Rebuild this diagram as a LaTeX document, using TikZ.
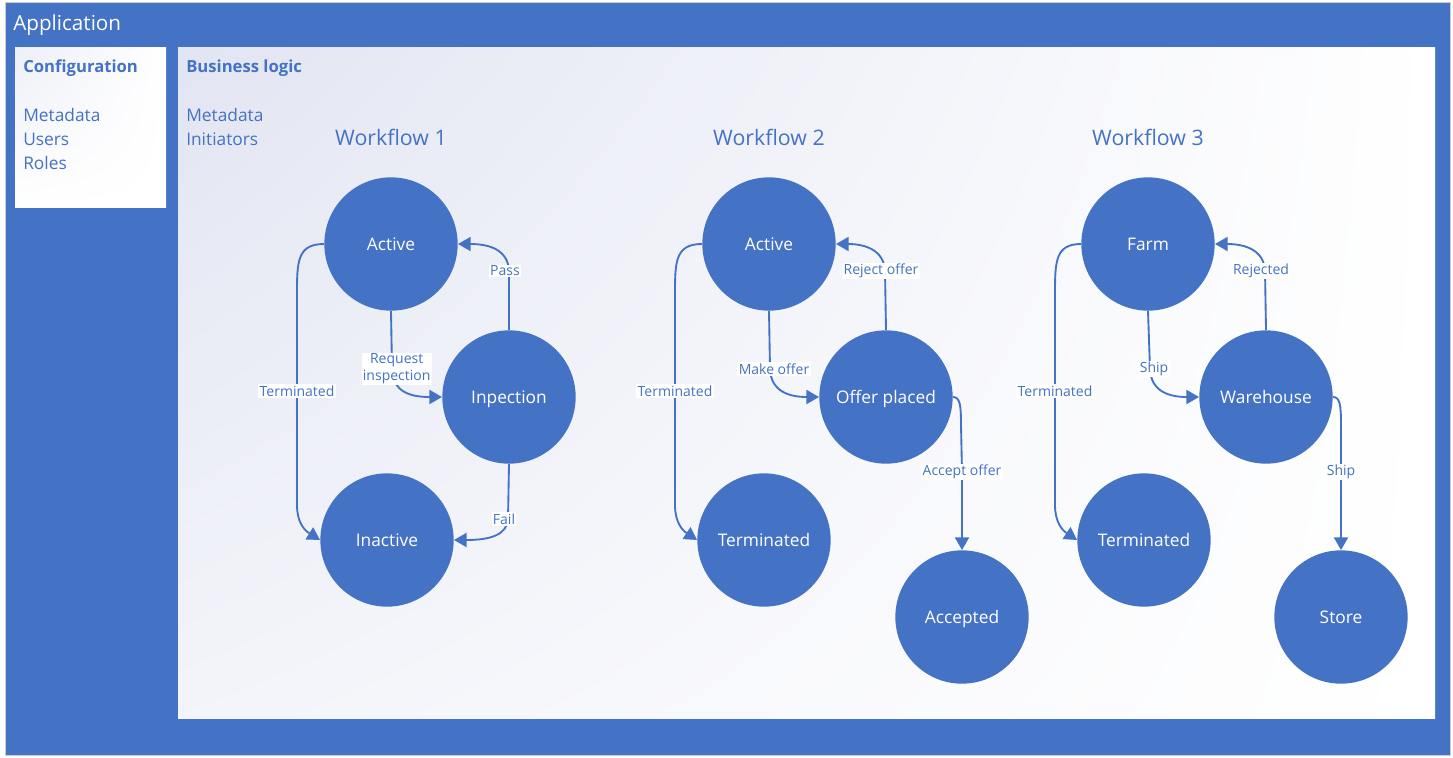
\documentclass[tikz,border=0pt]{standalone}
\usepackage{fontspec}
\setmainfont{Open Sans}
\usetikzlibrary{arrows.meta, shadings}
\definecolor{appblue}{RGB}{68,114,196}
\definecolor{lav}{RGB}{226,229,242}

\begin{document}
\begin{tikzpicture}[x=0.75pt, y=-0.75pt,
    state/.style={circle, fill=appblue, minimum size=100pt, inner sep=0pt, text=white, text height=9.3pt, text depth=0pt, font=\fontsize{13}{15}\selectfont},
    flow/.style={appblue, line width=1.4pt, -{Triangle[length=9.5pt, width=10.5pt]}},
    lbl/.style={fill=white, inner sep=1pt, text=appblue, font=\fontsize{10.5}{12.5}\selectfont, align=center},
    txt/.style={anchor=west, inner sep=0pt, yshift=-1.5pt, text=appblue, font=\fontsize{13}{15}\selectfont},
    head/.style={txt, font=\bfseries\fontsize{12.5}{15}\selectfont},
    title/.style={text=appblue, font=\fontsize{16}{19}\selectfont}]

    % Frame
    \useasboundingbox (0,0) rectangle (1453,757);
    \fill[appblue] (5,2) rectangle (1450,755);
    \draw[gray!40] (5,2) rectangle (1450,755);
    \node[txt, text=white, font=\fontsize{15.5}{18}\selectfont] (app) at (13,23) {Application};

    % Configuration
    \shade[upper left=lav!60!white, upper right=white, lower left=white, lower right=white] (15,47) rectangle (166,207);
    \node[head] (cfg) at (23,66) {Configuration};
    \foreach \t [count=\i] in {Metadata,Users,Roles}
        \node[txt] (cfg\i) at (23,89+24*\i) {\t};

    % Business logic
    \shade[upper left=lav, upper right=white, lower left=lav!40!white, lower right=white] (178,47) rectangle (1435,718);
    \node[head] (bl) at (186,66) {Business logic};
    \foreach \t [count=\i] in {Metadata,Initiators}
        \node[txt] (bl\i) at (186,89+24*\i) {\t};

    % Workflow titles
    \foreach \x/\n in {391/1,769/2,1148/3}
        \node[title] (wf\n) at (\x,137) {Workflow \n};

    % Workflow 1
    \node[state] (act1) at (391,244) {Active};
    \node[state] (insp1) at (509,397) {Inpection};
    \node[state] (inact1) at (387,540) {Inactive};

    \draw[flow] (act1.west) .. controls (297,244) and (297,262) .. (297,295) -- (297,391) node[lbl] {Terminated}
        -- (297,505) .. controls (297,522) and (304,530) .. (inact1.west);
    \draw[flow] (act1.south) -- (392,369) node[lbl, xshift=3.5pt] {Request\\inspection}
        .. controls (393,392) and (410,397) .. (insp1.west);
    \draw[flow] (insp1.north) -- (509,271) node[lbl, xshift=-3pt] {Pass}
        .. controls (508,250) and (490,244) .. (act1.east);
    \draw[flow] (insp1.south) -- (508,519) node[lbl, xshift=-3pt] {Fail}
        .. controls (507,535) and (490,540) .. (inact1.east);

    % Workflow 2
    \node[state] (act2) at (769,244) {Active};
    \node[state] (offer) at (886,397) {Offer placed};
    \node[state] (term2) at (764,540) {Terminated};
    \node[state] (acc) at (962,617) {Accepted};

    \draw[flow] (act2.west) .. controls (675,244) and (675,262) .. (675,295) -- (675,391) node[lbl] {Terminated}
        -- (675,505) .. controls (675,522) and (682,530) .. (term2.west);
    \draw[flow] (act2.south) -- (770,369) node[lbl, xshift=3pt] {Make offer}
        .. controls (771,392) and (790,397) .. (offer.west);
    \draw[flow] (offer.north) -- (885,271) node[lbl, xshift=-3pt] {Reject offer}
        .. controls (884,250) and (865,244) .. (act2.east);
    \draw[flow] (offer.east) .. controls (960,397) and (961,405) .. (961,425) -- (962,472) node[lbl] {Accept offer}
        -- (acc.north);

    % Workflow 3
    \node[state] (farm) at (1148,244) {Farm};
    \node[state] (ware) at (1266,397) {Warehouse};
    \node[state] (term3) at (1144,540) {Terminated};
    \node[state] (store) at (1341,617) {Store};

    \draw[flow] (farm.west) .. controls (1055,244) and (1055,262) .. (1055,295) -- (1055,391) node[lbl] {Terminated}
        -- (1055,505) .. controls (1055,522) and (1062,530) .. (term3.west);
    \draw[flow] (farm.south) -- (1150,369) node[lbl, xshift=3pt] {Ship}
        .. controls (1151,392) and (1170,397) .. (ware.west);
    \draw[flow] (ware.north) -- (1265,271) node[lbl, xshift=-3pt] {Rejected}
        .. controls (1264,250) and (1245,244) .. (farm.east);
    \draw[flow] (ware.east) .. controls (1340,397) and (1341,405) .. (1341,425) -- (1341,472) node[lbl] {Ship}
        -- (store.north);
\end{tikzpicture}
\end{document}
